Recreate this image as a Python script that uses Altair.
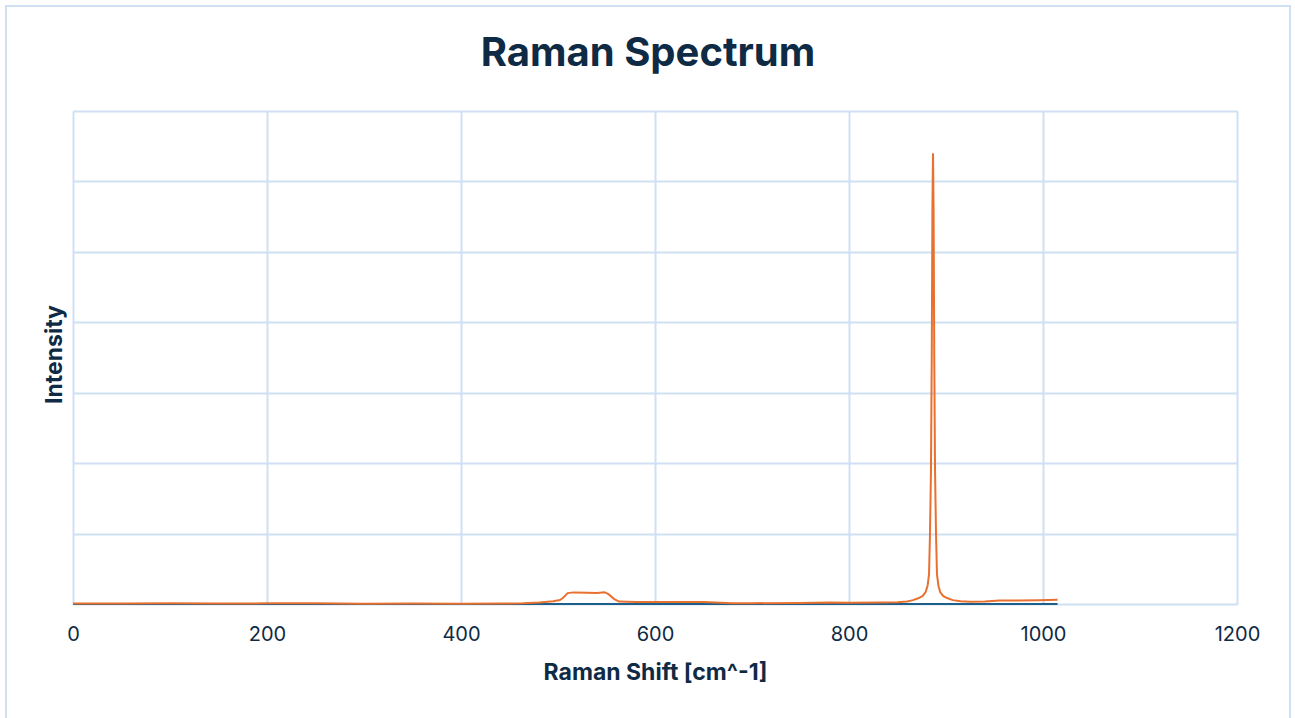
import altair as alt
import pandas as pd

# Orange series: Raman spectrum (x in cm^-1, intensity in counts)
spec_x = [0, 50, 100, 150, 200, 250, 300, 350, 400, 440, 464, 481, 495, 502, 505, 510,
          516, 530, 540, 548, 552, 558, 563, 580, 620, 650, 680, 700, 750, 780, 800, 830,
          850, 860, 866, 872, 876, 879, 881, 882.5, 883.5, 884.5, 885.3, 886, 886.6,
          887.2, 887.9, 888.7, 889.7, 890.7, 892.2, 894, 897, 901, 907, 915, 925, 940,
          955, 975, 995, 1015]
spec_y = [6, 8, 10, 8, 9, 10, 5, 6, 5, 8, 10, 20, 40, 57, 85, 155,
          165, 160, 155, 168, 140, 70, 35, 28, 28, 30, 12, 12, 14, 22, 18, 20,
          25, 35, 55, 85, 115, 170, 260, 420, 1000, 1900, 3500, 5600, 6400,
          5600, 3500, 1900, 1000, 420, 260, 170, 115, 85, 55, 40, 33, 35,
          48, 50, 55, 62]

# Blue series: flat baseline
base_x = [0, 200, 400, 600, 800, 1015]
base_y = [0, 0, 0, 0, 0, 0]

y_ticks = [0, 1000, 2000, 3000, 4000, 5000, 6000, 7000]
x_ticks = [0, 200, 400, 600, 800, 1000, 1200]

TITLE = "Raman Spectrum"
GRID = "#cfe0f3"
NAVY = "#0f2a44"
FONT = "Inter"

spec = pd.DataFrame({"x": spec_x, "y": spec_y})
base = pd.DataFrame({"x": base_x, "y": base_y})

xscale = alt.Scale(domain=[0, 1200], nice=False, zero=False)
yscale = alt.Scale(domain=[0, 7000], nice=False)

xaxis = alt.Axis(values=x_ticks, format="d", title="Raman Shift [cm^-1]", grid=True,
                 ticks=False, domain=False, labelFlush=False, labelFontSize=20,
                 labelColor=NAVY, labelFont=FONT, labelPadding=20, titleFontSize=23,
                 titleFontWeight="bold", titleColor=NAVY, titleFont=FONT,
                 titlePadding=17, gridColor=GRID, gridWidth=2)
yaxis = alt.Axis(values=y_ticks, title="Intensity", grid=True, ticks=False, labels=False,
                 domain=False, titleFontSize=23, titleFontWeight="bold", titleColor=NAVY,
                 titleFont=FONT, titlePadding=7, titleY=243, gridColor=GRID, gridWidth=2)

blue = alt.Chart(base).mark_line(color="#1d5f8a", strokeWidth=2).encode(
    x=alt.X("x:Q", scale=xscale, axis=xaxis),
    y=alt.Y("y:Q", scale=yscale, axis=yaxis),
)
orange = alt.Chart(spec).mark_line(color="#e8712f", strokeWidth=2).encode(
    x=alt.X("x:Q", scale=xscale, axis=xaxis),
    y=alt.Y("y:Q", scale=yscale, axis=yaxis),
)

frame = alt.Chart(pd.DataFrame({"a": [0]})).mark_rect(
    fill=None, stroke=GRID, strokeWidth=2
).encode(
    x=alt.value(-67), x2=alt.value(1217), y=alt.value(-105), y2=alt.value(620)
)

title = alt.Chart(pd.DataFrame({"t": [TITLE]})).mark_text(
    font=FONT, fontSize=40, fontWeight="bold", color=NAVY,
    align="center", baseline="alphabetic"
).encode(text="t:N", x=alt.value(575), y=alt.value(-45))

chart = alt.layer(frame, blue, orange, title).properties(
    width=1164,
    height=493,
    autosize=alt.AutoSizeParams(type="none"),
    padding={"left": 73, "top": 111, "right": 58, "bottom": 114},
).configure_view(stroke=None).configure(background="white")

chart.save("out.html", embed_options={"renderer": "svg", "actions": False})
